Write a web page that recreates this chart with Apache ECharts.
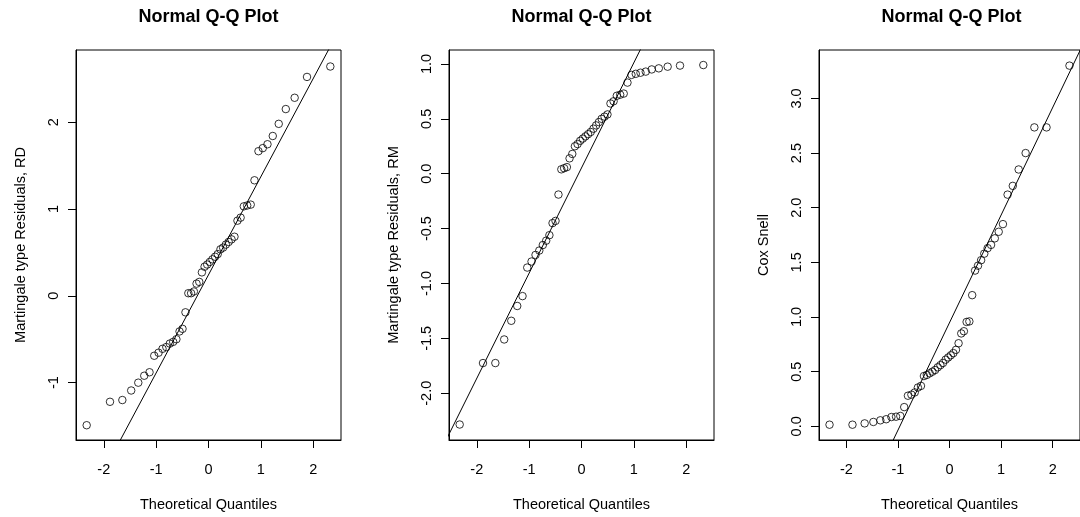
<!DOCTYPE html>
<html>
<head>
<meta charset="utf-8">
<script src="https://cdn.jsdelivr.net/npm/echarts@6/dist/echarts.min.js"></script>
<style>
html,body{margin:0;padding:0;background:#fff;}
#chart{width:1080px;height:517px;}
</style>
</head>
<body>
<div id="chart"></div>
<script>
// Theoretical normal quantiles (n = 50)
const quantiles = [-2.326, -1.881, -1.645, -1.476, -1.341, -1.227, -1.126, -1.036, -0.954, -0.878,
  -0.806, -0.739, -0.674, -0.613, -0.553, -0.496, -0.440, -0.385, -0.332, -0.279,
  -0.228, -0.176, -0.126, -0.075, -0.025, 0.025, 0.075, 0.126, 0.176, 0.228,
  0.279, 0.332, 0.385, 0.440, 0.496, 0.553, 0.613, 0.674, 0.739, 0.806,
  0.878, 0.954, 1.036, 1.126, 1.227, 1.341, 1.476, 1.645, 1.881, 2.326];

// Sorted sample values
const residRD = [-1.49, -1.22, -1.20, -1.09, -1.00, -0.92, -0.88, -0.69, -0.655, -0.61,
  -0.59, -0.55, -0.53, -0.50, -0.41, -0.38, -0.19, 0.03, 0.03, 0.05,
  0.14, 0.16, 0.27, 0.335, 0.36, 0.39, 0.42, 0.45, 0.48, 0.535,
  0.555, 0.59, 0.62, 0.65, 0.68, 0.865, 0.90, 1.03, 1.04, 1.05,
  1.33, 1.665, 1.70, 1.745, 1.84, 1.98, 2.15, 2.28, 2.52, 2.64];

const residRM = [-2.285, -1.725, -1.725, -1.51, -1.34, -1.205, -1.115, -0.855, -0.80, -0.74,
  -0.70, -0.65, -0.61, -0.56, -0.45, -0.43, -0.19, 0.04, 0.05, 0.06,
  0.14, 0.18, 0.25, 0.27, 0.30, 0.32, 0.34, 0.36, 0.38, 0.41,
  0.44, 0.47, 0.50, 0.52, 0.54, 0.64, 0.66, 0.71, 0.72, 0.73,
  0.83, 0.90, 0.91, 0.92, 0.93, 0.95, 0.96, 0.975, 0.985, 0.99];

const coxSnell = [0.015, 0.015, 0.027, 0.04, 0.055, 0.065, 0.085, 0.088, 0.095, 0.176,
  0.28, 0.29, 0.31, 0.355, 0.37, 0.46, 0.47, 0.485, 0.50, 0.515,
  0.54, 0.56, 0.58, 0.61, 0.63, 0.65, 0.67, 0.70, 0.76, 0.85,
  0.87, 0.955, 0.96, 1.20, 1.425, 1.47, 1.52, 1.58, 1.63, 1.66,
  1.72, 1.78, 1.85, 2.12, 2.20, 2.35, 2.50, 2.735, 2.735, 3.30];

// Reference (qq) line endpoints
const lineX = [-2.6, 2.6];
const lineRD = [-2.696, 3.18];
const lineRM = [-2.44, 2.546];
const lineCS = [-1.61, 3.507];

// Tick values
const xTicks = [-2, -1, 0, 1, 2];
const yTicksRD = [-1, 0, 1, 2];
const yTicksRM = [-2.0, -1.5, -1.0, -0.5, 0.0, 0.5, 1.0];
const yTicksCS = [0.0, 0.5, 1.0, 1.5, 2.0, 2.5, 3.0];

// Labels
const titleText = 'Normal Q-Q Plot';
const xName = 'Theoretical Quantiles';
const yNames = ['Martingale type Residuals, RD', 'Martingale type Residuals, RM', 'Cox Snell'];

const FONT = "'Liberation Sans', Arial, sans-serif";
const chart = echarts.init(document.getElementById('chart'), null, {renderer: 'canvas'});

const panels = [
  {left: 76, ys: residRD, line: lineRD, yTicks: yTicksRD, ymin: -1.66, ymax: 2.83, dec: 0, name: yNames[0]},
  {left: 449, ys: residRM, line: lineRM, yTicks: yTicksRM, ymin: -2.426, ymax: 1.127, dec: 1, name: yNames[1]},
  {left: 819, ys: coxSnell, line: lineCS, yTicks: yTicksCS, ymin: -0.125, ymax: 3.443, dec: 1, name: yNames[2]}
];

const W = 265, H = 392, TOP = 50;
const grids = [], xAxes = [], yAxes = [], series = [], titles = [];

panels.forEach((p, i) => {
  grids.push({left: p.left, top: TOP, width: W, height: H, show: true,
    borderColor: '#000', borderWidth: 1, backgroundColor: 'transparent', containLabel: false});
  titles.push({text: titleText, left: p.left + W / 2, top: 8, textAlign: 'center', padding: 0,
    textStyle: {fontFamily: FONT, fontSize: 18, fontWeight: 'bold', color: '#000'}});
  xAxes.push({type: 'value', gridIndex: i, min: -2.53, max: 2.53,
    name: xName, nameLocation: 'middle', nameGap: 57,
    nameTextStyle: {fontFamily: FONT, fontSize: 14.5, color: '#000'},
    axisLine: {show: true, onZero: false, lineStyle: {color: '#000', width: 1}},
    axisTick: {show: true, inside: false, length: 8, customValues: xTicks, lineStyle: {color: '#000'}},
    axisLabel: {show: true, margin: 22, customValues: xTicks, fontFamily: FONT, fontSize: 14.5, color: '#000',
      formatter: v => String(v)},
    splitLine: {show: false}});
  yAxes.push({type: 'value', gridIndex: i, min: p.ymin, max: p.ymax,
    name: p.name, nameLocation: 'middle', nameGap: 48, nameRotate: 90,
    nameTextStyle: {fontFamily: FONT, fontSize: 14.5, color: '#000'},
    axisLine: {show: true, onZero: false, lineStyle: {color: '#000', width: 1}},
    axisTick: {show: true, inside: false, length: 8, customValues: p.yTicks, lineStyle: {color: '#000'}},
    axisLabel: {show: true, rotate: 90, margin: 15, customValues: p.yTicks, fontFamily: FONT, fontSize: 14.5, color: '#000',
      formatter: v => Number(v).toFixed(p.dec)},
    splitLine: {show: false}});
  series.push({type: 'scatter', xAxisIndex: i, yAxisIndex: i,
    data: quantiles.map((q, k) => [q, p.ys[k]]),
    symbol: 'circle', symbolSize: 7.5,
    itemStyle: {color: 'transparent', borderColor: '#000', borderWidth: 1},
    emphasis: {disabled: true}, silent: true});
  series.push({type: 'line', xAxisIndex: i, yAxisIndex: i,
    data: lineX.map((x, k) => [x, p.line[k]]),
    showSymbol: false, symbol: 'none', clip: true,
    lineStyle: {color: '#000', width: 1}, silent: true, z: 1});
});

chart.setOption({
  animation: false,
  backgroundColor: '#fff',
  title: titles,
  grid: grids,
  xAxis: xAxes,
  yAxis: yAxes,
  series: series
});
</script>
</body>
</html>
